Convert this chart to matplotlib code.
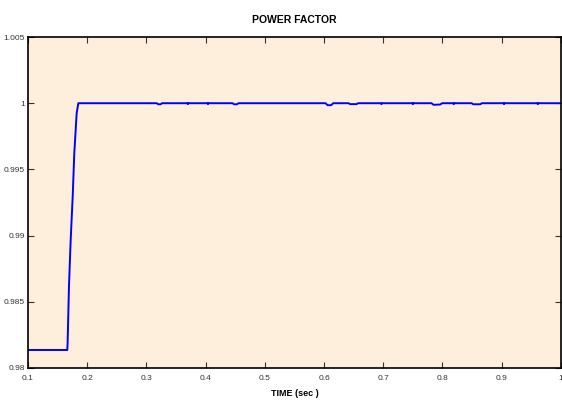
import numpy as np
import matplotlib.pyplot as plt

# power factor samples (time in sec): start-up ramp, then ~1 with small dips
t = [0.1, 0.1664, 0.1670, 0.1692, 0.1721, 0.1755, 0.1782, 0.1822, 0.1850,
     0.3175, 0.320, 0.324, 0.3265,
     0.3695, 0.370, 0.3705,
     0.4035, 0.404, 0.4045,
     0.4455, 0.448, 0.453, 0.4555,
     0.6025, 0.606, 0.612, 0.6155,
     0.6415, 0.644, 0.655, 0.6575,
     0.6965, 0.697, 0.6975,
     0.7495, 0.750, 0.7505,
     0.7815, 0.785, 0.796, 0.7995,
     0.8185, 0.819, 0.8195,
     0.8495, 0.852, 0.864, 0.8665,
     0.9035, 0.904, 0.9045,
     0.9605, 0.961, 0.9615,
     1.0]
pf = [0.98136, 0.98136, 0.98200, 0.98614, 0.98967, 0.99294, 0.99622, 0.99924, 1.0,
      1.0, 0.99992, 0.99992, 1.0,
      1.0, 0.99993, 1.0,
      1.0, 0.99993, 1.0,
      1.0, 0.99992, 0.99992, 1.0,
      1.0, 0.99985, 0.99985, 1.0,
      1.0, 0.99993, 0.99993, 1.0,
      1.0, 0.99993, 1.0,
      1.0, 0.99993, 1.0,
      1.0, 0.99988, 0.99990, 1.0,
      1.0, 0.99993, 1.0,
      1.0, 0.99992, 0.99992, 1.0,
      1.0, 0.99993, 1.0,
      1.0, 0.99993, 1.0,
      1.0]

xticks = [0.1, 0.2, 0.3, 0.4, 0.5, 0.6, 0.7, 0.8, 0.9, 1]
xlabels = ["0.1", "0.2", "0.3", "0.4", "0.5", "0.6", "0.7", "0.8", "0.9", "1"]
yticks = [0.98, 0.985, 0.99, 0.995, 1.0, 1.005]
ylabels = ["0.98", "0.985", "0.99", "0.995", "1", "1.005"]

plt.rcParams['font.family'] = ['Liberation Sans', 'DejaVu Sans']

fig = plt.figure(figsize=(5.62, 4.01), dpi=100)
ax = fig.add_axes([0.0498, 0.0823, 0.9482, 0.8254])
ax.set_facecolor("#fdefdb")

ax.plot(t, pf, color="#0000ff", lw=1.4)

ax.set_xlim(0.1, 1.0)
ax.set_ylim(0.98, 1.005)
ax.set_xticks(xticks)
ax.set_xticklabels(xlabels)
ax.set_yticks(yticks)
ax.set_yticklabels(ylabels)
ax.tick_params(direction="in", length=4, width=0.8, labelsize=6, pad=2,
               top=True, right=True, colors="#333333")
ax.tick_params(axis="x", pad=5)
for s in ax.spines.values():
    s.set_linewidth(1.2)

ax.set_title("POWER FACTOR", fontsize=7.5, fontweight="bold", pad=10)
ax.set_xlabel("TIME (sec )", fontsize=6.5, fontweight="bold", labelpad=5)

plt.savefig("out.png", dpi=100)
